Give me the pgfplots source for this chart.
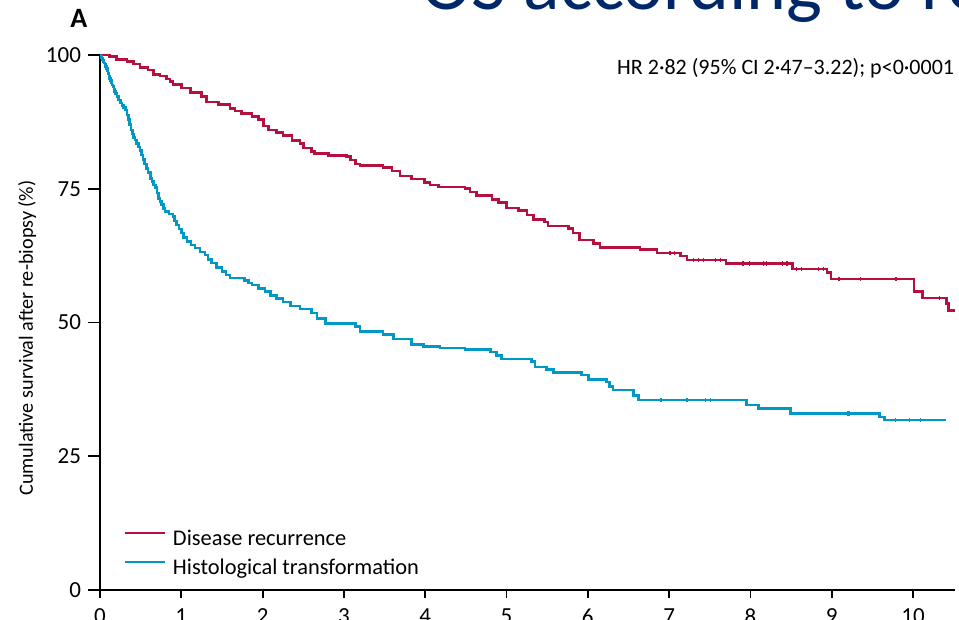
\documentclass[border=0pt]{standalone}
\usepackage{fontspec}
\setmainfont{Carlito}
\usepackage{pgfplots}
\pgfplotsset{compat=1.18}
\definecolor{recred}{RGB}{181,16,62}
\definecolor{htcyan}{RGB}{0,153,198}
\definecolor{titleblue}{RGB}{0,40,104}
\begin{document}
\begin{tikzpicture}
\useasboundingbox (-50pt,-15pt) rectangle (429.5pt,295pt);
\node[anchor=base west, text=titleblue, font=\fontsize{38}{38}\selectfont, inner sep=0pt] at (160.5pt,290pt) {OS according to re-biopsy};
\node[anchor=base west, font=\fontsize{14}{14}\bfseries\selectfont, inner sep=0pt] at (-15pt,281pt) {A};
\node[anchor=base, rotate=90, font=\fontsize{10.1}{10.5}\selectfont, inner sep=0pt] at (-33.5pt,126pt) {Cumulative survival after re-biopsy (\%)};
\begin{axis}[
  at={(0pt,0pt)}, anchor=south west,
  x=40.65pt, y=2.675pt,
  xmin=0, xmax=10.52, ymin=0, ymax=100,
  axis x line*=bottom, axis y line*=left,
  axis line style={-, line width=0.9pt},
  every tick/.style={black, line width=0.9pt},
  tick align=outside,
  major tick length=6pt,
  xtick style={/pgfplots/major tick length=4pt},
  xtick={0,1,2,3,4,5,6,7,8,9,10},
  ytick={0,25,50,75,100},
  /pgf/number format/assume math mode=true,
  tick label style={font=\fontsize{11.5}{12}\selectfont},
  clip=false,
  legend style={at={(axis cs:0.295,11.5)}, anchor=north west, draw=none, fill=none,
    font=\fontsize{11.2}{12}\selectfont, inner sep=0pt,
    nodes={inner sep=0pt, text height=8.5pt, text depth=2.5pt},
    row sep=3.5pt,
    /tikz/every odd column/.append style={column sep=3.5pt}},
  legend cell align=left,
  legend image code/.code={\draw[#1, line width=0.8pt] (0pt,3.3pt) -- (20pt,3.3pt);},
]
\addplot[const plot, recred, line width=1.3pt] coordinates {
(0,100) (0.12,99.7) (0.2,99.2) (0.33,98.8) (0.41,98.3) (0.49,97.7) (0.59,97.2)
(0.66,96.4) (0.74,96.1) (0.82,95.5) (0.86,95.0) (0.90,94.5) (1.0,93.8) (1.11,93.0) (1.25,92.2)
(1.31,91.2) (1.46,90.8) (1.60,90.0) (1.66,89.5) (1.74,89.1) (1.87,88.5) (1.95,87.9)
(2.01,86.7) (2.07,86.0) (2.17,85.5) (2.25,84.9) (2.36,84.0) (2.46,83.5) (2.50,82.6)
(2.60,82.0) (2.64,81.6) (2.81,81.2) (3.03,81.0) (3.08,80.4) (3.14,79.6) (3.20,79.3)
(3.48,79.0) (3.59,78.3) (3.69,77.4) (3.83,76.8) (3.99,76.2) (4.06,75.7) (4.16,75.3)
(4.49,75.0) (4.55,74.4) (4.63,73.7) (4.82,73.0) (4.90,72.4) (5.00,71.4) (5.15,70.9)
(5.25,70.1) (5.33,69.3) (5.47,68.8) (5.51,68.0) (5.76,67.6) (5.82,66.7) (5.90,65.4)
(6.07,64.8) (6.15,64.0) (6.64,63.6) (6.85,63.0) (7.14,62.4) (7.22,61.7) (7.70,61.0)
(8.52,60.0) (8.94,59.3) (8.99,58.1) (10.01,55.8) (10.12,54.6) (10.41,53.5) (10.44,52.2)
(10.52,52.2)
};
\addlegendentry{Disease recurrence}
\addplot[const plot, htcyan, line width=1.3pt] coordinates {
(0,100) (0.01,99.7) (0.02,99.4) (0.03,99.1) (0.04,98.8) (0.05,98.5) (0.06,98.2) (0.07,97.8)
(0.08,97.5) (0.09,97.0) (0.10,96.5) (0.11,96.0) (0.12,95.6) (0.13,95.2) (0.14,94.8) (0.15,94.4)
(0.16,94.1) (0.17,93.6) (0.18,93.2) (0.19,92.8) (0.21,92.2) (0.23,91.6) (0.25,91.0) (0.27,90.6)
(0.29,90.2) (0.31,89.7) (0.33,88.8) (0.35,87.9) (0.365,87.0) (0.38,86.0) (0.40,85.2) (0.415,84.6)
(0.43,84.1) (0.45,83.4) (0.47,82.8) (0.49,82.2) (0.51,81.3) (0.53,80.5) (0.55,79.6) (0.57,78.8)
(0.59,78.0) (0.62,76.9) (0.64,76.3) (0.66,75.7) (0.68,75.2) (0.70,74.2) (0.72,73.2) (0.74,72.6)
(0.76,72.0) (0.78,71.3) (0.80,70.7) (0.85,70.3) (0.90,69.8) (0.92,69.0) (0.94,68.2) (0.97,67.5)
(1.00,66.7) (1.03,65.9) (1.07,65.1) (1.12,64.5) (1.17,63.9) (1.23,63.2) (1.29,62.6) (1.33,61.8)
(1.37,61.1) (1.43,60.3) (1.50,59.5) (1.55,58.9) (1.60,58.3) (1.78,57.9) (1.83,57.4) (1.87,57.0)
(1.95,56.4) (2.03,55.8) (2.10,55.1) (2.17,54.5) (2.25,53.8) (2.34,53.1) (2.46,52.5) (2.60,51.8)
(2.67,50.8) (2.77,49.8)
(3.14,49.3) (3.20,48.3) (3.48,47.7) (3.61,46.9) (3.83,45.9) (3.98,45.5) (4.18,45.2)
(4.49,44.9) (4.80,44.5) (4.88,43.8) (4.94,43.2) (5.31,42.7) (5.35,41.7) (5.49,41.2)
(5.58,40.6) (5.92,40.2) (6.01,39.4) (6.23,38.9) (6.27,38.0) (6.31,37.4) (6.56,36.4)
(6.62,35.5) (7.95,34.6) (8.10,33.9) (8.49,33.0) (9.59,32.3) (9.65,31.8) (10.40,31.8)
};
\addlegendentry{Histological transformation}
\addplot[only marks, recred, mark=|, mark size=1.1pt, mark options={line width=0.6pt}, forget plot] coordinates {
(7.01,63.0) (7.07,63.0) (7.30,61.7) (7.36,61.7) (7.42,61.7) (7.57,61.7) (7.63,61.7)
(7.91,61.0) (7.99,61.0) (8.16,61.0) (8.20,61.0) (8.39,61.0) (8.45,61.0) (8.57,60.0)
(8.63,60.0) (8.84,60.0) (8.90,60.0) (9.09,58.1) (9.35,58.1) (9.79,58.1) (10.33,54.6)
};
\addplot[only marks, htcyan, mark=|, mark size=1.1pt, mark options={line width=0.6pt}, forget plot] coordinates {
(6.89,35.5) (6.91,35.5) (7.22,35.5) (7.45,35.5) (7.51,35.5) (9.20,33.0) (9.22,33.0)
(9.78,31.8) (9.96,31.8) (10.09,31.8)
};
\node[anchor=base east, font=\fontsize{11}{11}\selectfont, inner sep=0pt] at (axis cs:10.51,96.3) {HR 2·82 (95\% CI 2·47–3.22); p<0·0001};
\end{axis}
\end{tikzpicture}
\end{document}
